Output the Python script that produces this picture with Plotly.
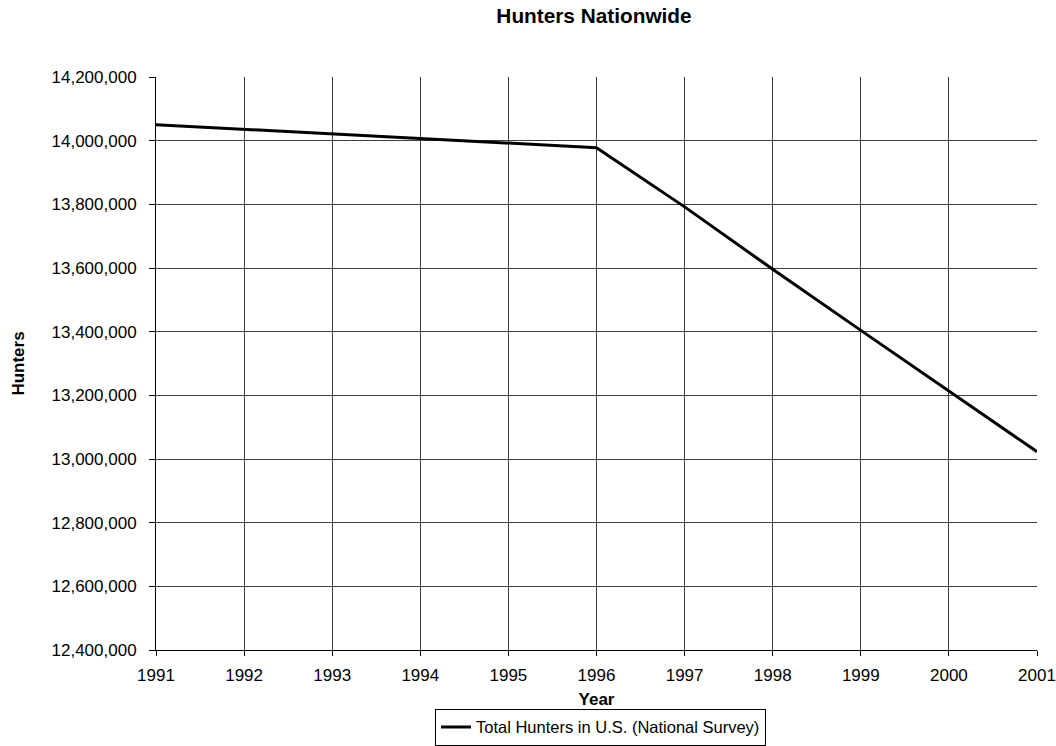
import plotly.graph_objects as go

years = [1991, 1992, 1993, 1994, 1995, 1996, 1997, 1998, 1999, 2000, 2001]
hunters = [14050000, 14036000, 14022000, 14007000, 13993000, 13978000,
           13792000, 13596000, 13404000, 13213000, 13023000]
series_name = "Total Hunters in U.S. (National Survey)"

FONT = "Liberation Sans, Arial, sans-serif"

W, H = 1056, 746
L, R, T, B = 156, 19, 77, 96
plot_h = H - T - B
plot_w = W - L - R

fig = go.Figure()
fig.add_trace(go.Scatter(x=years, y=hunters, mode="lines", name=series_name,
                         line=dict(color="black", width=3)))

fig.update_layout(
    width=W, height=H,
    margin=dict(l=L, r=R, t=T, b=B, autoexpand=False),
    paper_bgcolor="white", plot_bgcolor="white",
    font=dict(family=FONT, size=17, color="black"),
    title=dict(text="<b>Hunters Nationwide</b>", x=594 / W, xanchor="center",
               y=1 - 16 / H, yanchor="middle", font=dict(size=20.8)),
    showlegend=True,
    legend=dict(orientation="h", x=(600.5 - L) / plot_w, xanchor="center",
                y=(T + plot_h - 745.8) / plot_h, yanchor="bottom",
                bgcolor="rgba(0,0,0,0)",
                bordercolor="black", borderwidth=1, font=dict(size=16.5),
                itemwidth=30, tracegroupgap=0),
)
fig.update_xaxes(
    range=[1991, 2001], tickmode="linear", tick0=1991, dtick=1,
    showgrid=True, gridcolor="#404040", gridwidth=1,
    showline=True, linecolor="black", linewidth=1,
    ticks="outside", ticklen=5, tickcolor="black", ticklabelstandoff=5,
    title=dict(text="<b>Year</b>", standoff=8, font=dict(size=17)),
    zeroline=False,
)
fig.update_yaxes(
    range=[12400000, 14200000], tickmode="linear", tick0=12400000, dtick=200000,
    tickformat=",d",
    showgrid=True, gridcolor="#404040", gridwidth=1,
    showline=True, linecolor="black", linewidth=1,
    ticks="outside", ticklen=6, tickcolor="black", ticklabelstandoff=9,
    title=dict(text="<b>Hunters</b>", standoff=22, font=dict(size=17)),
    zeroline=False,
)

fig.write_html("out.html", config={"displayModeBar": False},
               post_script="document.body.style.margin='0';document.body.style.overflow='hidden';")
